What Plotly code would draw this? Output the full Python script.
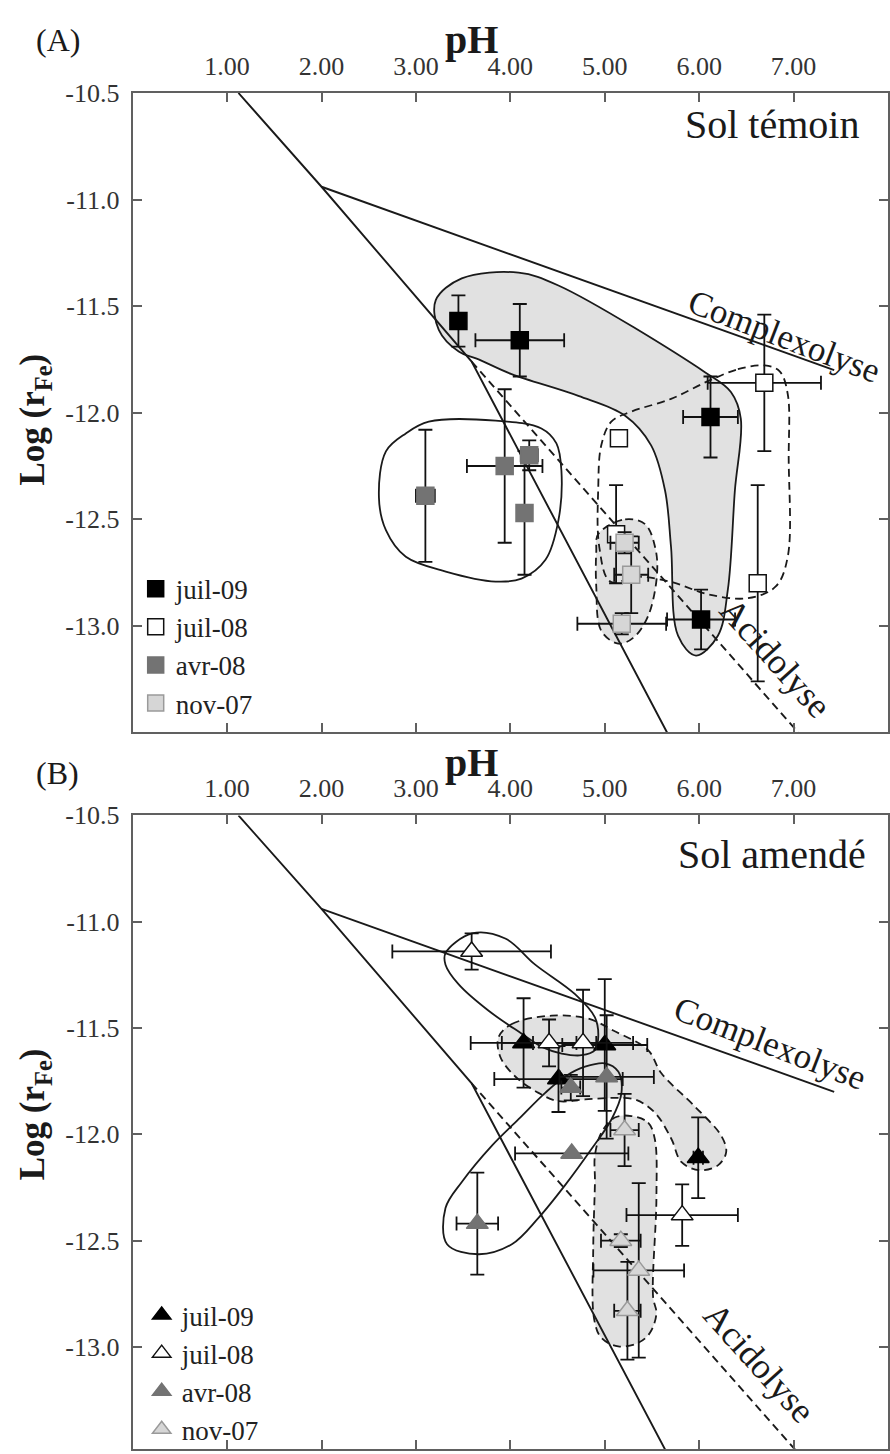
import plotly.graph_objects as go

# ---------------- data ----------------
series_names = ["juil-09", "juil-08", "avr-08", "nov-07"]
x_ticks = [1, 2, 3, 4, 5, 6, 7]
x_ticktext = ["1.00", "2.00", "3.00", "4.00", "5.00", "6.00", "7.00"]
y_ticks = [-10.5, -11.0, -11.5, -12.0, -12.5, -13.0]
y_ticktext = ["-10.5", "-11.0", "-11.5", "-12.0", "-12.5", "-13.0"]

# theoretical lines (same in both panels)
acid_solid_x = [1.12, 2.0, 3.59, 5.66]
acid_solid_y = [-10.5, -10.94, -11.76, -13.5]
acid_dash_x = [3.59, 7.05]
acid_dash_y = [-11.76, -13.5]
complex_x = [2.0, 7.43]
complex_y = [-10.94, -11.80]

# Panel A - Sol témoin (squares)
a_j09_x = [3.45, 4.10, 6.12, 6.02]
a_j09_y = [-11.57, -11.66, -12.02, -12.97]
a_j09_ex = [0.0, 0.47, 0.29, 0.36]
a_j09_ey = [0.12, 0.17, 0.19, 0.14]

a_j08_x = [6.69, 5.15, 5.12, 6.62]
a_j08_y = [-11.86, -12.12, -12.57, -12.80]
a_j08_ex = [0.60, 0.06, 0.06, 0.08]
a_j08_ey = [0.32, 0.03, 0.23, 0.46]

a_a08_x = [3.10, 3.94, 4.20, 4.15]
a_a08_y = [-12.39, -12.25, -12.20, -12.47]
a_a08_ex = [0.10, 0.40, 0.09, 0.0]
a_a08_ey = [0.31, 0.36, 0.07, 0.29]

a_n07_x = [5.21, 5.28, 5.18]
a_n07_y = [-12.61, -12.76, -12.99]
a_n07_ex = [0.15, 0.18, 0.47]
a_n07_ey = [0.05, 0.18, 0.05]

# Panel A envelopes
a_env_j09_x = [3.21, 3.485, 4.087, 4.509, 6.061, 6.336, 6.441, 6.378, 6.304, 6.198, 5.966, 5.776,
               5.702, 5.639, 5.491, 5.216, 4.720, 4.013, 3.664, 3.453, 3.242]
a_env_j09_y = [-11.472, -11.370, -11.343, -11.403, -11.810, -11.903, -12.028, -12.366, -12.829, -13.046,
               -13.139, -13.046, -12.630, -12.366, -12.153, -12.014, -11.921, -11.819, -11.750, -11.713, -11.611]
a_env_a08_x = [3.136, 3.844, 4.329, 4.488, 4.541, 4.509, 4.372, 4.118, 3.844, 3.316, 2.893, 2.682, 2.608, 2.682, 2.893]
a_env_a08_y = [-12.042, -12.037, -12.074, -12.144, -12.273, -12.505, -12.690, -12.778, -12.792, -12.745,
               -12.676, -12.551, -12.398, -12.181, -12.097]
a_env_j08_x = [6.093, 6.410, 6.695, 6.853, 6.938, 6.948, 6.938, 6.811, 6.515, 6.093, 5.723, 5.354,
               5.058, 4.942, 4.931, 4.963, 5.069, 5.280, 5.702]
a_env_j08_y = [-11.852, -11.796, -11.778, -11.806, -11.912, -12.213, -12.676, -12.815, -12.870, -12.852,
               -12.796, -12.769, -12.792, -12.630, -12.352, -12.153, -12.042, -11.995, -11.935]
a_env_n07_x = [4.931, 5.216, 5.428, 5.533, 5.554, 5.459, 5.301, 5.143, 4.963, 4.910, 4.910]
a_env_n07_y = [-12.569, -12.500, -12.523, -12.630, -12.755, -12.954, -13.056, -13.083, -13.023, -12.815, -12.653]

# Panel B - Sol amendé (triangles)
b_j09_x = [4.14, 5.00, 4.51, 5.99]
b_j09_y = [-11.57, -11.58, -11.74, -12.11]
b_j09_ex = [0.56, 0.45, 0.68, 0.05]
b_j09_ey = [0.21, 0.31, 0.155, 0.19]

b_j08_x = [3.59, 4.41, 4.77, 5.82]
b_j08_y = [-11.14, -11.57, -11.57, -12.38]
b_j08_ex = [0.84, 0.50, 0.53, 0.59]
b_j08_ey = [0.085, 0.11, 0.25, 0.145]

b_a08_x = [4.64, 5.02, 4.65, 3.65]
b_a08_y = [-11.78, -11.73, -12.09, -12.42]
b_a08_ex = [0.10, 0.50, 0.60, 0.22]
b_a08_ey = [0.06, 0.29, 0.0, 0.24]

b_n07_x = [5.21, 5.17, 5.36, 5.24]
b_n07_y = [-11.98, -12.50, -12.64, -12.83]
b_n07_ex = [0.15, 0.21, 0.48, 0.14]
b_n07_ey = [0.17, 0.03, 0.41, 0.23]

# Panel B envelopes
b_env_j08_x = [3.313, 3.594, 3.946, 4.263, 4.685, 4.896, 4.931, 4.896, 4.755, 4.544, 4.333, 4.121, 3.770, 3.453, 3.313]
b_env_j08_y = [-11.148, -11.055, -11.079, -11.202, -11.341, -11.450, -11.543, -11.604, -11.628, -11.620,
               -11.589, -11.527, -11.419, -11.295, -11.202]
b_env_a08_x = [3.313, 3.330, 3.664, 4.016, 4.298, 4.580, 4.861, 5.072, 5.177, 5.143, 5.002, 4.791, 4.580,
               4.369, 4.087, 3.805, 3.488]
b_env_a08_y = [-12.347, -12.517, -12.564, -12.517, -12.393, -12.239, -12.068, -11.929, -11.805, -11.705,
               -11.666, -11.682, -11.728, -11.805, -11.929, -12.053, -12.223]
b_env_j09_x = [3.875, 4.016, 4.438, 4.826, 5.090, 5.459, 5.600, 5.952, 6.234, 6.286, 6.198, 6.005, 5.811,
               5.706, 5.530, 5.319, 5.072, 4.791, 4.509, 4.298, 4.052, 3.893]
b_env_j09_y = [-11.543, -11.481, -11.442, -11.456, -11.512, -11.604, -11.713, -11.868, -12.007, -12.084,
               -12.146, -12.169, -12.130, -12.022, -11.898, -11.836, -11.829, -11.836, -11.844, -11.805,
               -11.728, -11.635]
b_env_n07_x = [5.283, 5.459, 5.530, 5.547, 5.512, 5.547, 5.477, 5.354, 5.143, 4.966, 4.889, 4.878, 4.896,
               4.896, 4.966, 5.107]
b_env_n07_y = [-11.914, -11.945, -12.022, -12.300, -12.765, -12.842, -12.935, -12.981, -12.997, -12.958,
               -12.873, -12.532, -12.223, -12.100, -11.991, -11.921]

# ---------------- figure ----------------
W, H = 890, 1454
SERIF = "Liberation Serif, Times New Roman, serif"
fig = go.Figure()

GREY_FILL = "#e1e1e1"
LINE_C = "#1a1a1a"


def envelope(xs, ys, dashed, filled, xa, ya):
    return go.Scatter(
        x=xs + [xs[0]], y=ys + [ys[0]], xaxis=xa, yaxis=ya, mode="lines",
        line=dict(shape="spline", smoothing=1.0, color=LINE_C, width=1.8,
                  dash="8px,5px" if dashed else "solid"),
        fill="toself", fillcolor=GREY_FILL if filled else "rgba(0,0,0,0)",
        showlegend=False, hoverinfo="skip")


def theory(xa, ya):
    out = []
    out.append(go.Scatter(x=acid_solid_x, y=acid_solid_y, xaxis=xa, yaxis=ya, mode="lines",
                          line=dict(color=LINE_C, width=1.9), showlegend=False, hoverinfo="skip"))
    out.append(go.Scatter(x=acid_dash_x, y=acid_dash_y, xaxis=xa, yaxis=ya, mode="lines",
                          line=dict(color=LINE_C, width=1.9, dash="8px,5px"), showlegend=False, hoverinfo="skip"))
    out.append(go.Scatter(x=complex_x, y=complex_y, xaxis=xa, yaxis=ya, mode="lines",
                          line=dict(color=LINE_C, width=1.9), showlegend=False, hoverinfo="skip"))
    return out


fills = {"juil-09": ("#000000", "#000000"),
         "juil-08": ("#ffffff", "#111111"),
         "avr-08": ("#737373", "#737373"),
         "nov-07": ("#d6d6d6", "#9a9a9a")}


def points(name, xs, ys, ex, ey, symbol, size, xa, ya, legend):
    fc, lc = fills[name]
    return go.Scatter(
        x=xs, y=ys, xaxis=xa, yaxis=ya, mode="markers", name=name, legend=legend,
        marker=dict(symbol=symbol, size=size, color=fc, line=dict(color=lc, width=1.5)),
        error_x=dict(type="data", array=ex, color="#111", thickness=1.8, width=7),
        error_y=dict(type="data", array=ey, color="#111", thickness=1.8, width=7))


# Panel A
for tr in [envelope(a_env_j09_x, a_env_j09_y, False, True, "x", "y"),
           envelope(a_env_n07_x, a_env_n07_y, True, True, "x", "y"),
           envelope(a_env_a08_x, a_env_a08_y, False, False, "x", "y"),
           envelope(a_env_j08_x, a_env_j08_y, True, False, "x", "y")]:
    fig.add_trace(tr)
for tr in theory("x", "y"):
    fig.add_trace(tr)
fig.add_trace(points("juil-09", a_j09_x, a_j09_y, a_j09_ex, a_j09_ey, "square", 17, "x", "y", "legend"))
fig.add_trace(points("juil-08", a_j08_x, a_j08_y, a_j08_ex, a_j08_ey, "square", 17, "x", "y", "legend"))
fig.add_trace(points("avr-08", a_a08_x, a_a08_y, a_a08_ex, a_a08_ey, "square", 17, "x", "y", "legend"))
fig.add_trace(points("nov-07", a_n07_x, a_n07_y, a_n07_ex, a_n07_ey, "square", 17, "x", "y", "legend"))

# Panel B
for tr in [envelope(b_env_j09_x, b_env_j09_y, True, True, "x2", "y2"),
           envelope(b_env_n07_x, b_env_n07_y, True, True, "x2", "y2"),
           envelope(b_env_j08_x, b_env_j08_y, False, False, "x2", "y2"),
           envelope(b_env_a08_x, b_env_a08_y, False, False, "x2", "y2")]:
    fig.add_trace(tr)
for tr in theory("x2", "y2"):
    fig.add_trace(tr)
fig.add_trace(points("juil-09", b_j09_x, b_j09_y, b_j09_ex, b_j09_ey, "triangle-up", 19, "x2", "y2", "legend2"))
fig.add_trace(points("juil-08", b_j08_x, b_j08_y, b_j08_ex, b_j08_ey, "triangle-up", 19, "x2", "y2", "legend2"))
fig.add_trace(points("avr-08", b_a08_x, b_a08_y, b_a08_ex, b_a08_ey, "triangle-up", 19, "x2", "y2", "legend2"))
fig.add_trace(points("nov-07", b_n07_x, b_n07_y, b_n07_ex, b_n07_ey, "triangle-up", 19, "x2", "y2", "legend2"))


def px(v):
    return v / W


def py(v):
    return 1 - v / H


tickfont = dict(family=SERIF, size=26, color="#333")
axis_common = dict(showline=True, linecolor="#606060", linewidth=2, ticks="inside", ticklen=9,
                   tickwidth=1.5, tickcolor="#606060", mirror="ticks", showgrid=False, zeroline=False,
                   tickfont=tickfont)

xa = dict(axis_common, range=[0, 8], tickvals=x_ticks, ticktext=x_ticktext, side="top",
          domain=[px(133), 1.0], ticklabelstandoff=6)
ya = dict(axis_common, tickvals=y_ticks, ticktext=y_ticktext, ticklabelstandoff=6)

legend_font = dict(family=SERIF, size=27, color="#222")
fig.update_layout(
    width=W, height=H, margin=dict(l=0, r=0, t=0, b=0),
    paper_bgcolor="white", plot_bgcolor="white",
    xaxis=dict(xa, anchor="y"),
    yaxis=dict(ya, range=[-13.5, -10.5], domain=[py(728), py(80)], anchor="x"),
    xaxis2=dict(xa, anchor="y2"),
    yaxis2=dict(ya, range=[-13.48, -10.5], domain=[0.0, py(812)], anchor="x2"),
    legend=dict(x=px(136), y=py(558), xanchor="left", yanchor="top", bgcolor="rgba(0,0,0,0)",
                font=legend_font, tracegroupgap=0, itemwidth=30),
    legend2=dict(x=px(142), y=py(1294), xanchor="left", yanchor="top", bgcolor="rgba(0,0,0,0)",
                 font=legend_font, tracegroupgap=0, itemwidth=30),
    showlegend=True,
)

ann = []


def text(t, x, y, size, bold=False, angle=0):
    ann.append(dict(text=f"<b>{t}</b>" if bold else t, x=px(x), y=py(y), xref="paper", yref="paper",
                    showarrow=False, xanchor="center", yanchor="middle", textangle=angle,
                    font=dict(family=SERIF, size=size, color="#1a1a1a")))


text("(A)", 58, 26, 32)
text("(B)", 58, 769, 32)
text("pH", 473, 26, 40, bold=True)
text("pH", 473, 758, 40, bold=True)
text("Log (r<sub>Fe</sub>)", 35, 411, 35, bold=True, angle=-90)
text("Log (r<sub>Fe</sub>)", 35, 1115, 35, bold=True, angle=-90)
text("Sol témoin", 774, 112, 40)
text("Sol amendé", 774, 852, 40)
text("Complexolyse", 786, 327, 35, angle=21)
text("Complexolyse", 772, 1043, 35, angle=21)
text("Acidolyse", 777, 653, 36, angle=48)
text("Acidolyse", 761, 1367, 36, angle=48)

fig.update_layout(annotations=ann)

fig.write_html("out.html", config={"displayModeBar": False},
               post_script="document.body.style.margin='0';document.body.style.overflow='hidden';")
